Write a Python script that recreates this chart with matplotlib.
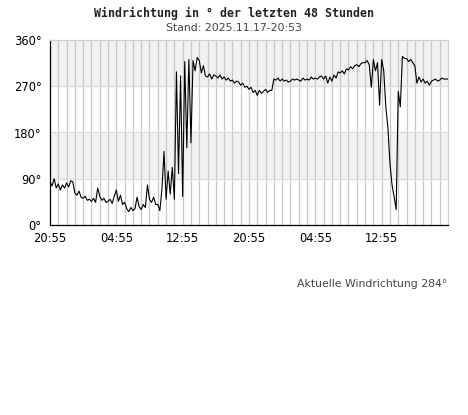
import numpy as np
import matplotlib.pyplot as plt

# Windrichtung (Grad), alle 15 Minuten ueber 48 Stunden
richtung = [
    84, 76, 90, 72,      # 0h
    80, 68, 78, 72,      # 1h
    82, 74, 86, 84,      # 2h
    62, 58, 66, 54,      # 3h
    52, 56, 48, 50,      # 4h
    46, 52, 44, 72,      # 5h
    56, 48, 52, 44,      # 6h
    46, 50, 42, 56,      # 7h
    68, 46, 58, 40,      # 8h
    44, 32, 26, 34,      # 9h
    28, 32, 54, 36,      # 10h
    30, 40, 34, 78,      # 11h
    50, 44, 54, 40,      # 12h
    40, 28, 70, 143,     # 13h
    50, 105, 60, 112,    # 14h
    50, 298, 100, 290,   # 15h
    55, 318, 150, 322,   # 16h
    160, 320, 300, 326,  # 17h
    320, 296, 310, 290,  # 18h
    288, 294, 284, 292,  # 19h
    290, 286, 292, 284,  # 20h
    288, 282, 286, 280,  # 21h
    282, 276, 280, 278,  # 22h
    272, 276, 268, 270,  # 23h
    264, 268, 258, 262,  # 24h
    252, 262, 256, 260,  # 25h
    264, 258, 262, 262,  # 26h
    284, 282, 286, 280,  # 27h
    284, 280, 282, 278,  # 28h
    280, 284, 282, 284,  # 29h
    282, 280, 286, 282,  # 30h
    284, 282, 288, 284,  # 31h
    286, 284, 288, 290,  # 32h
    284, 290, 276, 288,  # 33h
    280, 292, 286, 298,  # 34h
    296, 300, 294, 304,  # 35h
    302, 308, 304, 310,  # 36h
    312, 308, 314, 316,  # 37h
    316, 320, 312, 268,  # 38h
    322, 300, 316, 233,  # 39h
    322, 300, 230, 190,  # 40h
    120, 78, 55, 30,     # 41h
    260, 230, 328, 324,  # 42h
    324, 318, 322, 316,  # 43h
    310, 276, 288, 278,  # 44h
    284, 276, 280, 272,  # 45h
    280, 282, 284, 280,  # 46h
    282, 286, 284, 284,  # 47h
    284,                 # 48h
]
stunden = np.arange(len(richtung)) * 0.25

x_ticks = [0, 8, 16, 24, 32, 40]
x_labels = ["20:55", "04:55", "12:55", "20:55", "04:55", "12:55"]
y_ticks = [0, 90, 180, 270, 360]
y_labels = ["0°", "90°", "180°", "270°", "360°"]

titel = "Windrichtung in ° der letzten 48 Stunden"
stand = "Stand: 2025.11.17-20:53"
aktuell = "Aktuelle Windrichtung 284°"

fig = plt.figure(figsize=(4.68, 4.15), dpi=100)
ax = fig.add_axes([50 / 468, 1 - 225 / 415, 398 / 468, 185 / 415])

# graue Baender
ax.axhspan(90, 180, color="#f2f2f2", lw=0, zorder=0)
ax.axhspan(270, 360, color="#f2f2f2", lw=0, zorder=0)

# Gitter: stuendlich senkrecht, 90 Grad waagrecht
for h in range(1, 48):
    ax.axvline(h, color="#c8c8c8", lw=0.9, zorder=1)
for d in [90, 180, 270]:
    ax.axhline(d, color="#dcdcdc", lw=0.9, zorder=1)

ax.plot(stunden, richtung, color="black", lw=0.8, zorder=3)

ax.set_xlim(0, 48)
ax.set_ylim(0, 360)
ax.set_xticks(x_ticks)
ax.set_xticklabels(x_labels)
ax.set_yticks(y_ticks)
ax.set_yticklabels(y_labels)
ax.tick_params(axis="x", length=0, labelsize=8.3, pad=5)
ax.tick_params(axis="y", length=0, labelsize=8.3, pad=6)

ax.spines["top"].set_color("#d0d0d0")
ax.spines["right"].set_color("#d0d0d0")
ax.spines["left"].set_color("black")
ax.spines["bottom"].set_color("black")
for s in ax.spines.values():
    s.set_linewidth(0.9)

fig.text(0.5, 1 - 13 / 415, titel, ha="center", va="center",
         family="DejaVu Sans Mono", weight="bold", fontsize=8.4, color="#222222")
fig.text(0.5, 1 - 28 / 415, stand, ha="center", va="center",
         fontsize=7.8, color="#444444")
fig.text(447 / 468, 1 - 284 / 415, aktuell, ha="right", va="center",
         fontsize=7.8, color="#444444")

plt.savefig("out.png", dpi=100)
